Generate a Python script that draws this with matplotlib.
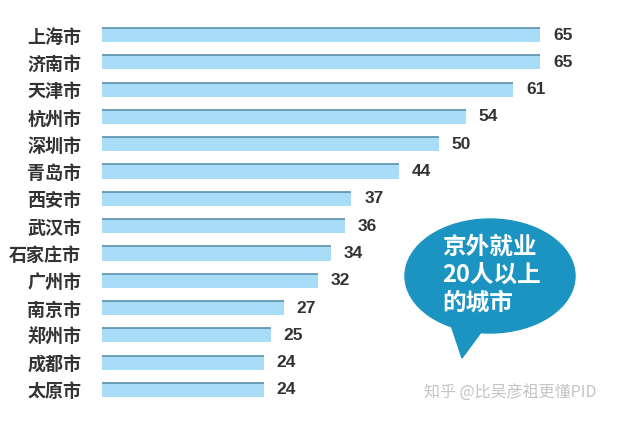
import matplotlib
matplotlib.use('Agg')
import matplotlib.pyplot as plt
from matplotlib.patches import Ellipse, Polygon

plt.rcParams['font.family'] = ['Noto Sans CJK SC', 'DejaVu Sans']

# 数据
cities = ['上海市', '济南市', '天津市', '杭州市', '深圳市', '青岛市', '西安市',
          '武汉市', '石家庄市', '广州市', '南京市', '郑州市', '成都市', '太原市']
counts = [65, 65, 61, 54, 50, 44, 37, 36, 34, 32, 27, 25, 24, 24]

W, H = 624, 422
fig = plt.figure(figsize=(W / 100, H / 100), dpi=100)

# ejes: x=0 en px 102, 6.74 px por unidad; filas cada 27.3 px desde y=35
px_unit = 6.74
x0 = 102
ax = fig.add_axes([x0 / W, 0, 1 - x0 / W, 1])
ax.set_xlim(0, (W - x0) / px_unit)
row = 27.3
ax.set_ylim(13 + (H - 390) / row, -35 / row)

pos = list(range(len(cities)))
bar_h = 0.52
ax.barh(pos, counts, height=bar_h, color='#a9ddf7', edgecolor='none')
# linea superior oscura de cada barra
ax.hlines([p - bar_h / 2 for p in pos], 0, counts, color='#5b8fa8', linewidth=1.2)

for p, v in zip(pos, counts):
    ax.text(v + 1.9, p, str(v), va='center', ha='left', fontsize=12.5,
            fontweight='bold', color='#333333', family='Liberation Sans')

ax.set_yticks(pos)
ax.set_yticklabels(cities, fontsize=13, fontweight='heavy', color='#333333')
ax.tick_params(axis='y', length=0, pad=15)
ax.set_xticks([])
for s in ax.spines.values():
    s.set_visible(False)

# burbuja
bubble_col = '#1b94c1'
fig.patches.append(Ellipse((490 / W, 1 - 276 / H), 170 / W, 114 / H,
                           transform=fig.transFigure, color=bubble_col, zorder=5))
tail = [(450, 322), (490, 320), (462, 358)]
fig.patches.append(Polygon([(x / W, 1 - y / H) for x, y in tail], closed=True,
                           transform=fig.transFigure, color=bubble_col, zorder=5))
fig.text(442 / W, 1 - 275 / H, '京外就业\n20人以上\n的城市', color='white',
         fontsize=17, fontweight='heavy', ha='left', va='center',
         linespacing=1.2, zorder=6)

# marca de agua
fig.text(510 / W, 1 - 393 / H, '知乎 @比吴彦祖更懂PID', color='#c4c4c4',
         fontsize=11.5, ha='center', va='center')

fig.savefig('out.png', dpi=100)
